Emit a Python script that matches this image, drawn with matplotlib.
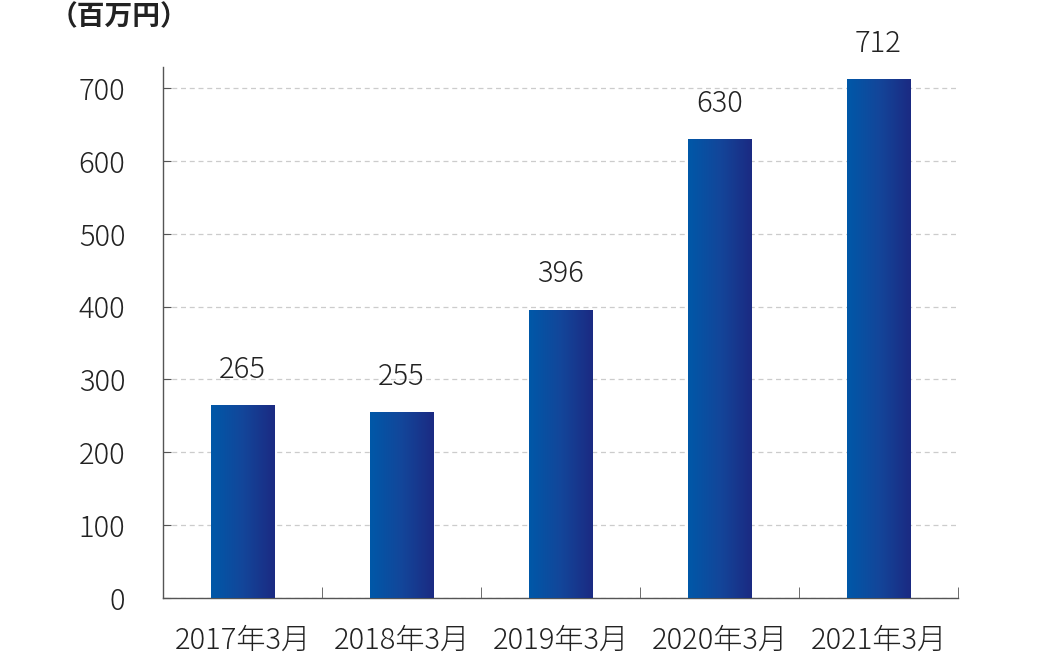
import numpy as np
import matplotlib.pyplot as plt
from matplotlib.colors import LinearSegmentedColormap
from matplotlib.ticker import FixedLocator

plt.rcParams['font.family'] = ['Noto Sans CJK JP', 'DejaVu Sans']

categories = ['2017年3月', '2018年3月', '2019年3月', '2020年3月', '2021年3月']
values = [265, 255, 396, 630, 712]
yticks = [0, 100, 200, 300, 400, 500, 600, 700]
unit_label = '（百万円）'

fig = plt.figure(figsize=(10.5, 6.56), dpi=100)
ax = fig.add_axes([0.1552, 0.0884, 0.7572, 0.8095])

x = np.arange(len(categories))
width = 0.4
cmap = LinearSegmentedColormap.from_list('bar', ['#0058a8', '#13469a', '#1b2a82'])
grad = np.linspace(0, 1, 256).reshape(1, -1)

bars = ax.bar(x, values, width=width, color='none', edgecolor='none', zorder=3)
for b in bars:
    x0, y0 = b.get_x(), b.get_y()
    w, h = b.get_width(), b.get_height()
    im = ax.imshow(grad, cmap=cmap, aspect='auto', extent=[x0, x0 + w, y0, y0 + h],
                   zorder=3, interpolation='bicubic')
    im.set_clip_path(b)
    ax.text(x0 + w / 2, h + 28, str(int(h)), ha='center', va='bottom',
            fontsize=21, fontweight='light', color='#222222')

ax.set_xlim(-0.5, len(categories) - 0.5)
ax.set_ylim(0, 729)
ax.set_yticks(yticks)
ax.set_yticklabels([str(t) for t in yticks], fontsize=21, fontweight='light', color='#222222')
ax.set_xticks(x)
ax.set_xticklabels(categories, fontsize=21, fontweight='light', color='#222222')
ax.xaxis.set_minor_locator(FixedLocator(np.arange(0.5, len(categories), 1.0)))
ax.tick_params(axis='x', which='major', length=0, pad=20)
ax.tick_params(axis='x', which='minor', direction='in', length=8, color='#555555')
ax.tick_params(axis='y', direction='in', length=6, color='#555555', pad=27)

ax.grid(axis='y', linestyle=(0, (4, 3)), color='#cccccc', linewidth=0.9, zorder=0)
ax.set_axisbelow(True)
for s in ['top', 'right']:
    ax.spines[s].set_visible(False)
for s in ['left', 'bottom']:
    ax.spines[s].set_color('#555555')
    ax.spines[s].set_linewidth(1.0)

fig.text(0.047, 0.995, unit_label, ha='left', va='top', fontsize=20,
         fontweight='bold', color='#222222')

fig.savefig('out.png', dpi=100)
